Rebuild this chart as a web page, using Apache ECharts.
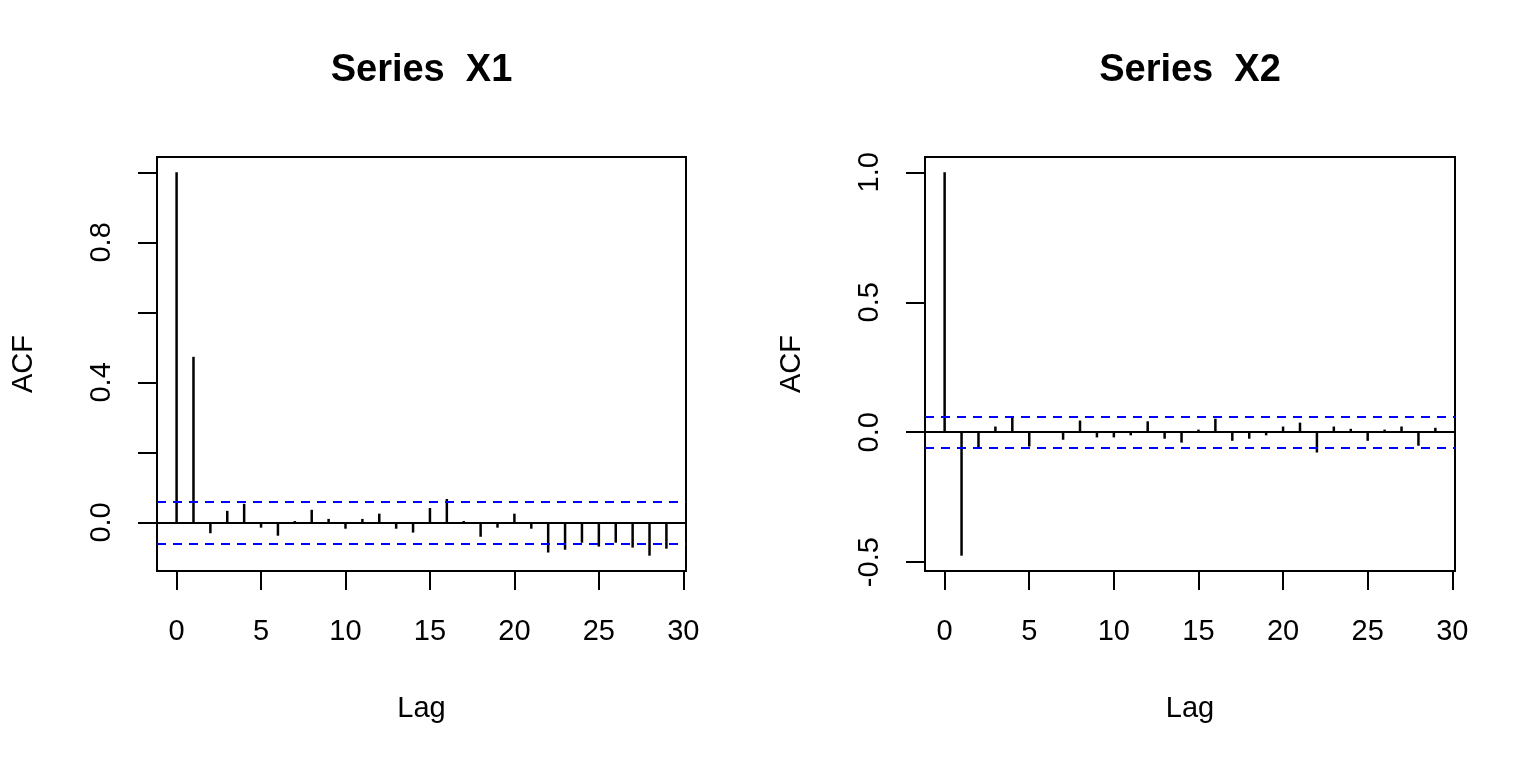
<!DOCTYPE html>
<html><head><meta charset="utf-8">
<script src="https://cdn.jsdelivr.net/npm/echarts@6/dist/echarts.min.js"></script>
<style>html,body{margin:0;padding:0;background:#fff}#c{width:1536px;height:768px}</style>
</head><body><div id="c"></div>
<script>
const lags = [0,1,2,3,4,5,6,7,8,9,10,11,12,13,14,15,16,17,18,19,20,21,22,23,24,25,26,27,28,29];
const acfX1 = [1.000, 0.473, -0.031, 0.033, 0.053, -0.015, -0.038, 0.004, 0.036, 0.010, -0.018, 0.010, 0.025, -0.018, -0.029, 0.041, 0.067, 0.004, -0.041, -0.015, 0.025, -0.018, -0.086, -0.078, -0.058, -0.069, -0.058, -0.072, -0.095, -0.075];
const acfX2 = [1.000, -0.475, -0.061, 0.022, 0.058, -0.055, 0.000, -0.029, 0.045, -0.020, -0.020, -0.012, 0.042, -0.025, -0.040, 0.010, 0.052, -0.033, -0.025, -0.012, 0.022, 0.037, -0.078, 0.022, 0.013, -0.033, 0.010, 0.022, -0.052, 0.017];
const ciBound = 0.062;
const titles = ['Series  X1', 'Series  X2'];
const xTicks = [0,5,10,15,20,25,30];
const yTicks1 = [0,0.2,0.4,0.6,0.8,1.0];
const yLabels1 = [0,0.4,0.8];
const yTicks2 = [-0.5,0,0.5,1.0];
const yLabels2 = [-0.5,0,0.5,1.0];

const FONT = 'Liberation Sans, Arial, sans-serif';
const chart = echarts.init(document.getElementById('c'), null, {renderer:'canvas'});

const grids = [
  {left:157, top:157, width:529, height:414},
  {left:925, top:157, width:530, height:414}
];
const yRanges = [[-0.1388, 1.0438], [-0.534, 1.059]];
const yTickSets = [yTicks1, yTicks2];
const yLabelSets = [yLabels1, yLabels2];
const series = [acfX1, acfX2];

const option = {
  animation:false,
  backgroundColor:'#fff',
  title: titles.map((t,i)=>({
    text:t, left: grids[i].left + grids[i].width/2, top:52, textAlign:'center', padding:0,
    textStyle:{fontFamily:FONT, fontWeight:'bold', fontSize:38, color:'#000'}
  })),
  grid: grids.map(g=>Object.assign({show:true, borderColor:'#000', borderWidth:2, backgroundColor:'transparent'}, g)),
  xAxis: grids.map((g,i)=>({
    type:'value', gridIndex:i, min:-1.16, max:30.16,
    name:'Lag', nameLocation:'middle', nameGap:123,
    nameTextStyle:{fontFamily:FONT, fontSize:29, color:'#000'},
    axisLine:{show:false, onZero:false},
    axisTick:{show:true, inside:false, length:19, customValues:xTicks, lineStyle:{color:'#000', width:2}},
    axisLabel:{show:true, margin:46, customValues:xTicks, fontFamily:FONT, fontSize:29, color:'#000'},
    splitLine:{show:false}
  })),
  yAxis: grids.map((g,i)=>({
    type:'value', gridIndex:i, min:yRanges[i][0], max:yRanges[i][1],
    name:'ACF', nameLocation:'middle', nameGap:119,
    nameTextStyle:{fontFamily:FONT, fontSize:29, color:'#000'},
    axisLine:{show:false, onZero:false},
    axisTick:{show:true, inside:false, length:19, customValues:yTickSets[i], lineStyle:{color:'#000', width:2}},
    axisLabel:{show:true, margin:41, rotate:90, customValues:yLabelSets[i], fontFamily:FONT, fontSize:29, color:'#000',
      formatter:v=>Number(v).toFixed(1)},
    splitLine:{show:false}
  })),
  series: series.map((vals,i)=>({
    type:'bar', xAxisIndex:i, yAxisIndex:i, barWidth:2.5,
    itemStyle:{color:'#000'},
    data: lags.map((l,k)=>[l, vals[k]]),
    markLine:{
      silent:true, symbol:['none','none'], label:{show:false}, animation:false,
      data:[
        {yAxis:0, lineStyle:{color:'#000', width:2, type:'solid'}},
        {yAxis:ciBound, lineStyle:{color:'#0000FF', width:2, type:[9,7]}},
        {yAxis:-ciBound, lineStyle:{color:'#0000FF', width:2, type:[9,7]}}
      ]
    }
  }))
};
chart.setOption(option);
</script>
</body></html>
